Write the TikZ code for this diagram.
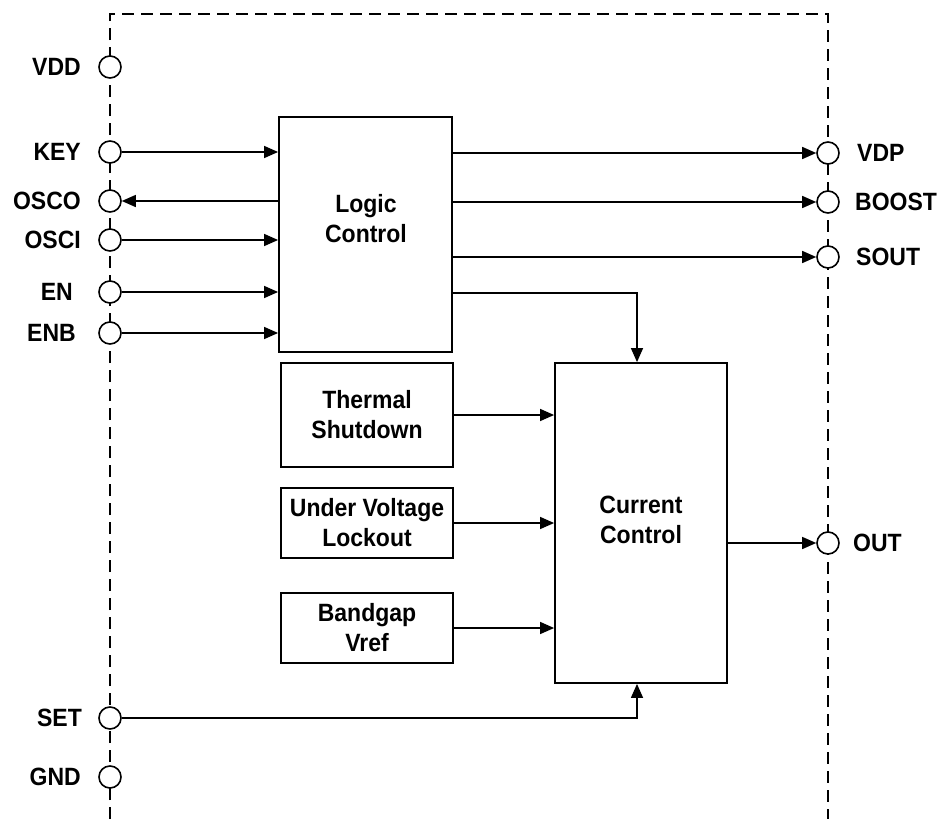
\documentclass[tikz,border=0pt]{standalone}
\usepackage{fontspec}
\setmainfont[FakeStretch=0.92]{Liberation Sans}
\usetikzlibrary{arrows.meta}
\begin{document}
\begin{tikzpicture}[x=1pt,y=-1pt,
  every node/.style={font=\fontsize{25}{30}\selectfont\bfseries},
  pin/.style={draw,circle,minimum size=22pt,inner sep=0pt,fill=white,line width=1.6pt},
  blk/.style={draw,rectangle,line width=1.8pt,inner sep=0pt},
  txt/.style={align=center,inner sep=0pt},
  lpin/.style={anchor=east,inner sep=0pt},
  rpin/.style={anchor=west,inner sep=0pt},
  sig/.style={line width=1.4pt,-{Triangle[length=14pt,width=12pt]}},
  border/.style={line width=2pt,dash pattern=on 12pt off 7pt}]
\useasboundingbox (0,0) rectangle (942,819);
% dashed border
\coordinate (bl) at (110,819);
\coordinate (tl) at (110,14);
\coordinate (tr) at (828,14);
\coordinate (br) at (828,819);
\draw[border] (bl) -- (tl) -- (tr) -- (br);
% blocks
\node[blk,minimum width=173pt,minimum height=235pt] (logic) at (365.5,234.5) {};
\node[txt] (logictxt) at (366,219) {Logic\\Control};
\node[blk,minimum width=172pt,minimum height=104pt,txt] (thermal) at (367,415) {Thermal\\Shutdown};
\node[blk,minimum width=172pt,minimum height=70pt,txt] (uvlo) at (367,523) {Under Voltage\\Lockout};
\node[blk,minimum width=172pt,minimum height=70pt,txt] (bandgap) at (367,628) {Bandgap\\Vref};
\node[blk,minimum width=172pt,minimum height=320pt] (current) at (641,523) {};
\node[txt] (currenttxt) at (641,520) {Current\\Control};
% left pins
\node[pin] (vdd) at (110,67) {};
\node[pin] (key) at (110,152) {};
\node[pin] (osco) at (110,201) {};
\node[pin] (osci) at (110,240) {};
\node[pin] (en) at (110,292) {};
\node[pin] (enb) at (110,333) {};
\node[pin] (set) at (110,718) {};
\node[pin] (gnd) at (110,777) {};
\node[lpin] (vddl) at (81,67) {VDD};
\node[lpin] (keyl) at (81,152) {KEY};
\node[lpin] (oscol) at (81,201) {OSCO};
\node[lpin] (oscil) at (81,240) {OSCI};
\node[lpin] (enl) at (73,292) {EN};
\node[lpin] (enbl) at (76,333) {ENB};
\node[lpin] (setl) at (82,718) {SET};
\node[lpin] (gndl) at (81,777) {GND};
% right pins
\node[pin] (vdp) at (828,153) {};
\node[pin] (boost) at (828,202) {};
\node[pin] (sout) at (828,257) {};
\node[pin] (out) at (828,543) {};
\node[rpin] (vdpl) at (857,153) {VDP};
\node[rpin] (boostl) at (855,202) {BOOST};
\node[rpin] (soutl) at (856,257) {SOUT};
\node[rpin] (outl) at (853,543) {OUT};
% connectors
\draw[sig] (key) -- (key -| logic.west);
\draw[sig] (osco -| logic.west) -- (osco);
\draw[sig] (osci) -- (osci -| logic.west);
\draw[sig] (en) -- (en -| logic.west);
\draw[sig] (enb) -- (enb -| logic.west);
\draw[sig] (logic.east |- vdp) -- (vdp);
\draw[sig] (logic.east |- boost) -- (boost);
\draw[sig] (logic.east |- sout) -- (sout);
\coordinate (lc) at (452,293);
\draw[sig] (logic.east |- lc) -| ([xshift=-4pt]current.north);
\draw[sig] (thermal) -- (thermal -| current.west);
\draw[sig] (uvlo) -- (uvlo -| current.west);
\draw[sig] (bandgap) -- (bandgap -| current.west);
\draw[sig] (current.east |- out) -- (out);
\draw[sig] (set) -| ([xshift=-4pt]current.south);
\end{tikzpicture}
\end{document}
